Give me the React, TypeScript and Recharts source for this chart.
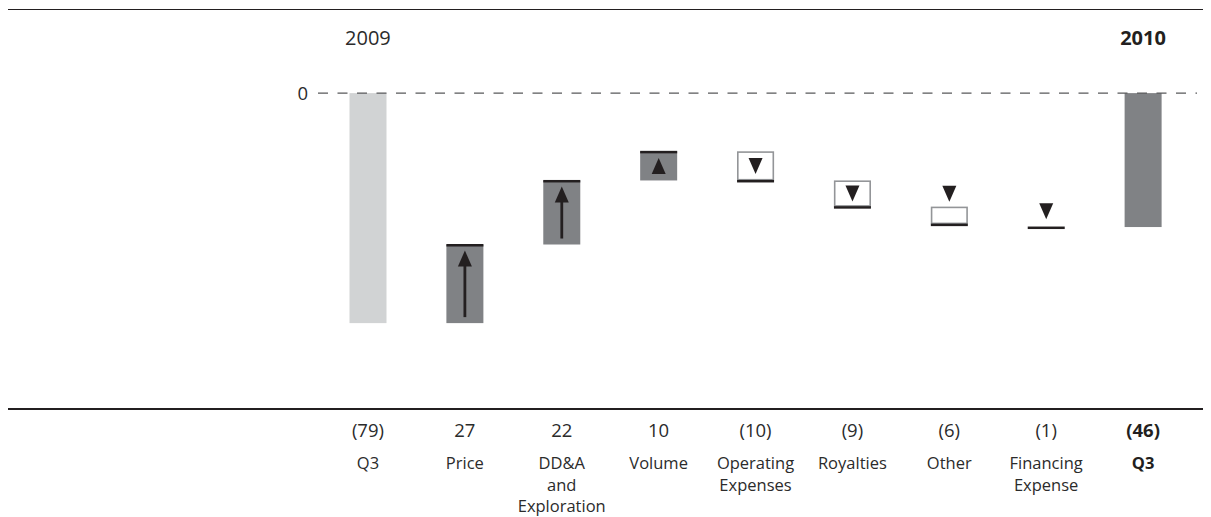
import React from "react";
import { ComposedChart, Bar, XAxis, YAxis, ReferenceLine } from "recharts";

const categories = ["Q3", "Price", "DD&A\nand\nExploration", "Volume", "Operating\nExpenses", "Royalties", "Other", "Financing\nExpense", "Q3"];
const changes = [-79, 27, 22, 10, -10, -9, -6, -1, -46];
const valueLabels = ["(79)", "27", "22", "10", "(10)", "(9)", "(6)", "(1)", "(46)"];
const kinds = ["start", "up", "up", "up", "down", "down", "down", "down", "end"];
const yearLabels = ["2009", "", "", "", "", "", "", "", "2010"];
const yTicks = [0];

const FONT = "'Open Sans', 'Noto Sans', sans-serif";
const DARK = "#808285";
const LIGHT = "#d1d3d4";
const INK = "#231f20";
const BORDER = "#939598";
const TEXT = "#2b2b2b";

type Row = { idx: number; range: [number, number]; kind: string; label: string; valueLabel: string; year: string };

const data: Row[] = (() => {
  let running = 0;
  return changes.map((c, i) => {
    const kind = kinds[i];
    let range: [number, number];
    if (kind === "start" || kind === "end") {
      range = [Math.min(c, 0), Math.max(c, 0)];
      running = c;
    } else {
      const next = running + c;
      range = [Math.min(running, next), Math.max(running, next)];
      running = next;
    }
    return { idx: i, range, kind, label: categories[i], valueLabel: valueLabels[i], year: yearLabels[i] };
  });
})();

const TRI_W = 14;
const TRI_H = 16;

const upTri = (cx: number, tip: number) => `M${cx},${tip} L${cx + TRI_W / 2},${tip + TRI_H} L${cx - TRI_W / 2},${tip + TRI_H} Z`;
const downTri = (cx: number, base: number) => `M${cx - TRI_W / 2},${base} L${cx + TRI_W / 2},${base} L${cx},${base + TRI_H} Z`;

const WaterfallShape = (props: any) => {
  const { x, y, width, height } = props;
  const row: Row = props.payload ?? props;
  const top = Math.min(y, y + height);
  const h = Math.abs(height);
  const cx = x + width / 2;
  const kind = row.kind;
  if (kind === "start") return <rect x={x} y={top} width={width} height={h} fill={LIGHT} />;
  if (kind === "end") return <rect x={x} y={top} width={width} height={h} fill={DARK} />;
  if (kind === "up") {
    const long = h > 40;
    return (
      <g>
        <rect x={x} y={top} width={width} height={h} fill={DARK} />
        <rect x={x} y={top - 0.5} width={width} height={2.5} fill={INK} />
        {long ? (
          <g>
            <path d={upTri(cx, top + 6)} fill={INK} />
            <rect x={cx - 1.4} y={top + 6 + TRI_H - 1} width={2.8} height={h - 12 - TRI_H + 1} fill={INK} />
          </g>
        ) : (
          <path d={upTri(cx, top + (h - TRI_H) / 2)} fill={INK} />
        )}
      </g>
    );
  }
  // down
  const inside = h >= 24;
  return (
    <g>
      {h >= 8 && <rect x={x + 0.75} y={top + 0.75} width={width - 1.5} height={h - 1.5} fill="#ffffff" stroke={BORDER} strokeWidth={1.6} />}
      <rect x={x} y={top + h - 0.5} width={width} height={2.5} fill={INK} />
      <path d={inside ? downTri(cx, top + (h - TRI_H) / 2) : downTri(cx, top - 5 - TRI_H)} fill={INK} />
    </g>
  );
};

const BottomTick = (props: any) => {
  const { x, y, payload } = props;
  const row = data[Number(payload.value)];
  if (!row) return null;
  const bold = row.kind === "end";
  const lines = row.label.split("\n");
  return (
    <g>
      <text x={x} y={y} textAnchor="middle" fontFamily={FONT} fontSize={18.5} fontWeight={bold ? 700 : 400} fill={bold ? INK : TEXT}>
        {row.valueLabel}
      </text>
      {lines.map((l, i) => (
        <text key={i} x={x} y={y + 32 + 21.5 * i} textAnchor="middle" fontFamily={FONT} fontSize={16.5} fontWeight={bold ? 700 : 400} fill={bold ? INK : TEXT}>
          {l}
        </text>
      ))}
    </g>
  );
};

const TopTick = (props: any) => {
  const { x, y, payload } = props;
  const row = data[Number(payload.value)];
  if (!row || !row.year) return null;
  const bold = row.kind === "end";
  return (
    <text x={x} y={y} textAnchor="middle" fontFamily={FONT} fontSize={20} fontWeight={bold ? 700 : 400} fill={bold ? INK : TEXT}>
      {row.year}
    </text>
  );
};

export default function App() {
  return (
    <div style={{ position: "relative", width: 1203, height: 509 }}>
      <style>{"body{overflow:hidden}"}</style>
      <div style={{ position: "absolute", left: -6, top: -22, fontFamily: FONT, fontSize: 16, lineHeight: "16px", color: "#333", whiteSpace: "nowrap" }}>
        ($ millions)
      </div>
      <div style={{ position: "absolute", left: 0, top: 0.5, width: 1203, height: 1.6, background: INK }} />
      <div style={{ position: "absolute", left: 0, top: 400.3, width: 1203, height: 1.6, background: INK }} />
      <ComposedChart width={1203} height={509} data={data} margin={{ top: 6, right: 14, bottom: 8, left: 0 }}>
        <XAxis
          dataKey="idx"
          type="category"
          height={100}
          padding={{ left: 1.5, right: 5.5 }}
          axisLine={false}
          tickLine={false}
          tickSize={0}
          tickMargin={28}
          interval={0}
          tick={<BottomTick />}
        />
        <XAxis
          xAxisId="top"
          dataKey="idx"
          type="category"
          orientation="top"
          height={50}
          padding={{ left: 1.5, right: 5.5 }}
          axisLine={false}
          tickLine={false}
          tickSize={0}
          tickMargin={19}
          interval={0}
          tick={<TopTick />}
        />
        <YAxis
          type="number"
          domain={[-108.5, 10]}
          ticks={yTicks}
          width={310}
          axisLine={false}
          tickLine={false}
          tickSize={0}
          tickMargin={10}
          allowDataOverflow
          tick={{ fontSize: 18.5, fill: TEXT, fontFamily: FONT }}
        />
        <ReferenceLine y={0} stroke="#58595b" strokeWidth={1.3} strokeDasharray="10 9.5" />
        <Bar dataKey="range" barSize={37} shape={WaterfallShape} isAnimationActive={false} />
      </ComposedChart>
    </div>
  );
}
